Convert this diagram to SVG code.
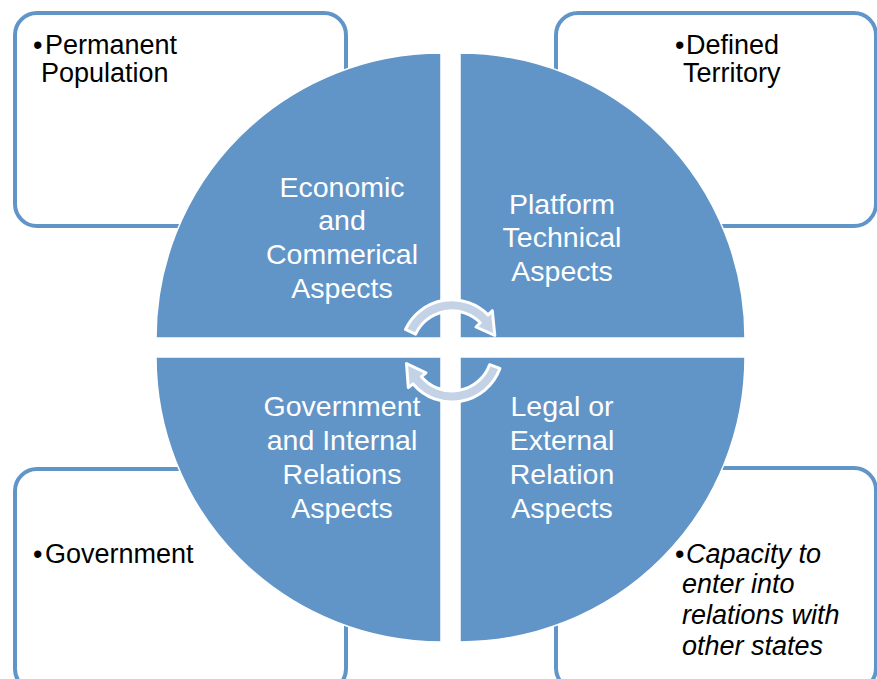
<svg xmlns="http://www.w3.org/2000/svg" width="877" height="679" viewBox="0 0 877 679">
<style>
.box{fill:#ffffff;stroke:#6195C8;stroke-width:4}
.quad{fill:#6195C8;stroke:#ffffff;stroke-width:1.5}
.qt{font-family:"Liberation Sans",Arial,sans-serif;font-size:28.5px;fill:#ffffff;text-anchor:middle}
.bt{font-family:"Liberation Sans",Arial,sans-serif;font-size:27px;fill:#000000}
.it{font-style:italic}
.arr{fill:#C4D2E6;stroke:#ffffff;stroke-width:3;stroke-linejoin:round}
</style>
<rect width="877" height="679" fill="#ffffff"/>
<g id="box-tl"><rect class="box" x="15" y="13" width="331" height="213" rx="22"/>
<text class="bt"><tspan x="33" y="54">•</tspan><tspan x="45" y="54">Permanent</tspan><tspan x="41" y="82">Population</tspan></text></g>
<g id="box-tr"><rect class="box" x="556" y="13" width="320" height="213" rx="22"/>
<text class="bt"><tspan x="675" y="54">•</tspan><tspan x="686" y="54">Defined</tspan><tspan x="683" y="82">Territory</tspan></text></g>
<g id="box-bl"><rect class="box" x="15" y="469" width="331" height="222" rx="22"/>
<text class="bt"><tspan x="33" y="563">•</tspan><tspan x="45" y="563">Government</tspan></text></g>
<g id="box-br"><rect class="box" x="556" y="468" width="320" height="222" rx="22"/>
<text class="bt"><tspan x="675" y="563">•</tspan><tspan class="it" x="686" y="563">Capacity to</tspan><tspan class="it" x="682" y="593">enter into</tspan><tspan class="it" x="682" y="624">relations with</tspan><tspan class="it" x="682" y="655">other states</tspan></text></g>
<g id="q-economic"><path class="quad" d="M441,338 L156,338 A285,285 0 0 1 441,53 Z"/>
<text class="qt"><tspan x="342" y="197">Economic</tspan><tspan x="342" y="230">and</tspan><tspan x="342" y="264">Commerical</tspan><tspan x="342" y="298">Aspects</tspan></text></g>
<g id="q-platform"><path class="quad" d="M460,338 L460,53 A285,285 0 0 1 745,338 Z"/>
<text class="qt"><tspan x="562" y="214">Platform</tspan><tspan x="562" y="247">Technical</tspan><tspan x="562" y="281">Aspects</tspan></text></g>
<g id="q-legal"><path class="quad" d="M460,357 L745,357 A285,285 0 0 1 460,642 Z"/>
<text class="qt"><tspan x="562" y="416">Legal or</tspan><tspan x="562" y="450">External</tspan><tspan x="562" y="484">Relation</tspan><tspan x="562" y="518">Aspects</tspan></text></g>
<g id="q-government"><path class="quad" d="M441,357 L441,642 A285,285 0 0 1 156,357 Z"/>
<text class="qt"><tspan x="342" y="416">Government</tspan><tspan x="342" y="450">and Internal</tspan><tspan x="342" y="484">Relations</tspan><tspan x="342" y="518">Aspects</tspan></text></g>
<g id="connectors">
<path class="arr" d="M405.5,329.5 A51,51 0 0 1 488.1,314.9 L492.3,310.7 L494.8,335.4 L476.0,327.0 L480.3,322.7 A40,40 0 0 0 415.6,334.1 Z"/>
<path class="arr" d="M499.9,368.4 A51,51 0 0 1 412.9,383.8 L408.3,387.6 L406.5,363.5 L426.0,372.9 L421.4,376.7 A40,40 0 0 0 489.6,364.7 Z"/>
</g>
</svg>
